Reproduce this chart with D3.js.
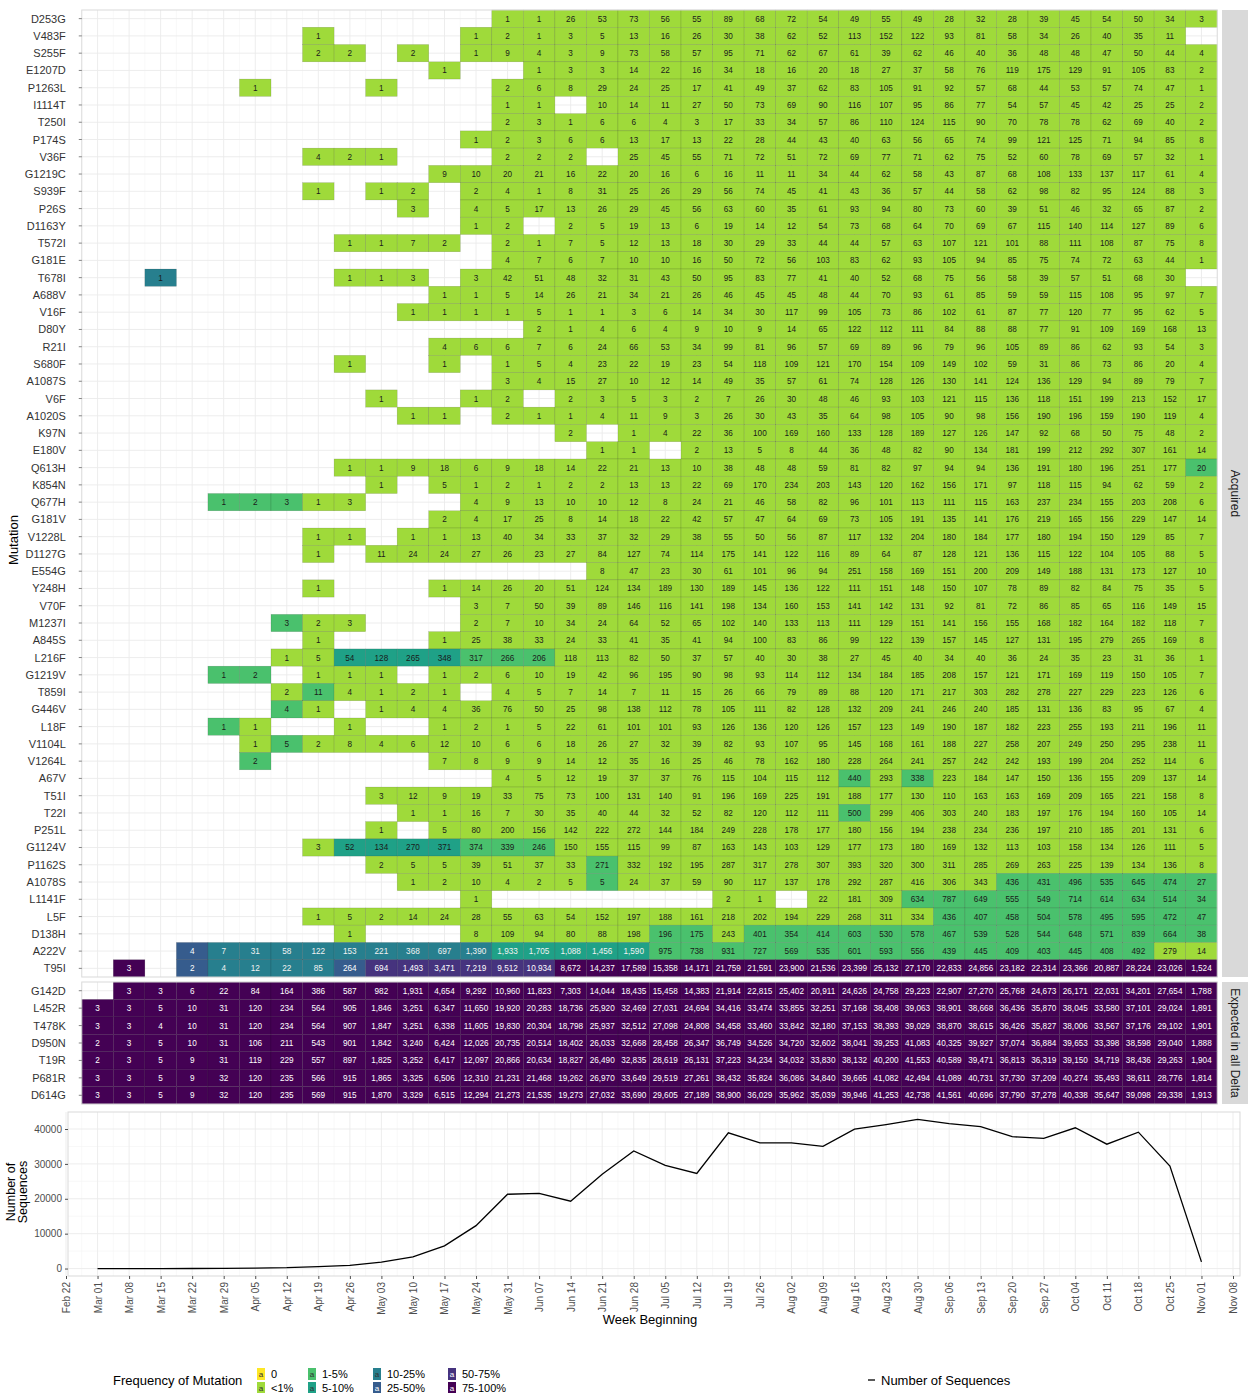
<!DOCTYPE html>
<html><head><meta charset="utf-8">
<script src="https://cdn.jsdelivr.net/npm/d3@7"></script>
<style>body{margin:0;background:#fff;font-family:"Liberation Sans",Arial,Helvetica,sans-serif}</style>
</head><body><svg id="c" width="1249" height="1393"></svg>
<script>
const _ = null;
// ---------- categories ----------
const weeks = ["Mar 01","Mar 08","Mar 15","Mar 22","Mar 29","Apr 05","Apr 12","Apr 19","Apr 26","May 03","May 10","May 17","May 24","May 31","Jun 07","Jun 14","Jun 21","Jun 28","Jul 05","Jul 12","Jul 19","Jul 26","Aug 02","Aug 09","Aug 16","Aug 23","Aug 30","Sep 06","Sep 13","Sep 20","Sep 27","Oct 04","Oct 11","Oct 18","Oct 25","Nov 01"];
const xTickLabels = ["Feb 22"].concat(weeks, ["Nov 08"]);
const acquiredMutations = ["D253G","V483F","S255F","E1207D","P1263L","I1114T","T250I","P174S","V36F","G1219C","S939F","P26S","D1163Y","T572I","G181E","T678I","A688V","V16F","D80Y","R21I","S680F","A1087S","V6F","A1020S","K97N","E180V","Q613H","K854N","Q677H","G181V","V1228L","D1127G","E554G","Y248H","V70F","M1237I","A845S","L216F","G1219V","T859I","G446V","L18F","V1104L","V1264L","A67V","T51I","T22I","P251L","G1124V","P1162S","A1078S","L1141F","L5F","D138H","A222V","T95I"];
const expectedMutations = ["G142D","L452R","T478K","D950N","T19R","P681R","D614G"];
const freqClasses = ["0","<1%","1-5%","5-10%","10-25%","25-50%","50-75%","75-100%"];
const freqColors = ["#FDE725","#9FDA3A","#4AC16D","#1FA187","#277F8E","#365C8D","#46337E","#440154"];
const yTicks = [0,10000,20000,30000,40000];

// ---------- counts per mutation (one value per week, _ = no sequences) ----------
const acquiredCounts = [
/*D253G*/ [_,_,_,_,_,_,_,_,_,_,_,_,_, 1,1,26,53,73,56,55,89,68,72,54,49, 55,49,28,32,28,39,45,54,50,34,3],
/*V483F*/ [_,_,_,_,_,_,_,1,_,_,_,_,1, 2,1,3,5,13,16,26,30,38,62,52,113, 152,122,93,81,58,34,26,40,35,11,_],
/*S255F*/ [_,_,_,_,_,_,_,2,2,_,2,_,1, 9,4,3,9,73,58,57,95,71,62,67,61, 39,62,46,40,36,48,48,47,50,44,4],
/*E1207D*/[_,_,_,_,_,_,_,_,_,_,_,1,_, _,1,3,3,14,22,16,34,18,16,20,18, 27,37,58,76,119,175,129,91,105,83,2],
/*P1263L*/[_,_,_,_,_,1,_,_,_,1,_,_,_, 2,6,8,29,24,25,17,41,49,37,62,83, 105,91,92,57,68,44,53,57,74,47,1],
/*I1114T*/[_,_,_,_,_,_,_,_,_,_,_,_,_, 1,1,_,10,14,11,27,50,73,69,90,116, 107,95,86,77,54,57,45,42,25,25,2],
/*T250I*/ [_,_,_,_,_,_,_,_,_,_,_,_,_, 2,3,1,6,6,4,3,17,33,34,57,86, 110,124,115,90,70,78,78,62,69,40,2],
/*P174S*/ [_,_,_,_,_,_,_,_,_,_,_,_,1, 2,3,6,6,13,17,13,22,28,44,43,40, 63,56,65,74,99,121,125,71,94,85,8],
/*V36F*/  [_,_,_,_,_,_,_,4,2,1,_,_,_, 2,2,2,_,25,45,55,71,72,51,72,69, 77,71,62,75,52,60,78,69,57,32,1],
/*G1219C*/[_,_,_,_,_,_,_,_,_,_,_,9,10, 20,21,16,22,20,16,6,16,11,11,34,44, 62,58,43,87,68,108,133,137,117,61,4],
/*S939F*/ [_,_,_,_,_,_,_,1,_,1,2,_,2, 4,1,8,31,25,26,29,56,74,45,41,43, 36,57,44,58,62,98,82,95,124,88,3],
/*P26S*/  [_,_,_,_,_,_,_,_,_,_,3,_,4, 5,17,13,26,29,45,56,63,60,35,61,93, 94,80,73,60,39,51,46,32,65,87,2],
/*D1163Y*/[_,_,_,_,_,_,_,_,_,_,_,_,1, 2,_,2,5,19,13,6,19,14,12,54,73, 68,64,70,69,67,115,140,114,127,89,6],
/*T572I*/ [_,_,_,_,_,_,_,_,1,1,7,2,_, 2,1,7,5,12,13,18,30,29,33,44,44, 57,63,107,121,101,88,111,108,87,75,8],
/*G181E*/ [_,_,_,_,_,_,_,_,_,_,_,_,_, 4,7,6,7,10,10,16,50,72,56,103,83, 62,93,105,94,85,75,74,72,63,44,1],
/*T678I*/ [_,_,1,_,_,_,_,_,1,1,3,_,3, 42,51,48,32,31,43,50,95,83,77,41,40, 52,68,75,56,58,39,57,51,68,30,_],
/*A688V*/ [_,_,_,_,_,_,_,_,_,_,_,1,1, 5,14,26,21,34,21,26,46,45,45,48,44, 70,93,61,85,59,59,115,108,95,97,7],
/*V16F*/  [_,_,_,_,_,_,_,_,_,_,1,1,1, 1,5,1,1,3,6,14,34,30,117,99,105, 73,86,102,61,87,77,120,77,95,62,5],
/*D80Y*/  [_,_,_,_,_,_,_,_,_,_,_,_,_, _,2,1,4,6,4,9,10,9,14,65,122, 112,111,84,88,88,77,91,109,169,168,13],
/*R21I*/  [_,_,_,_,_,_,_,_,_,_,_,4,6, 6,7,6,24,66,53,34,99,81,96,57,69, 89,96,79,96,105,89,86,62,93,54,3],
/*S680F*/ [_,_,_,_,_,_,_,_,1,_,_,1,_, 1,5,4,23,22,19,23,54,118,109,121,170, 154,109,149,102,59,31,86,73,86,20,4],
/*A1087S*/[_,_,_,_,_,_,_,_,_,_,_,_,_, 3,4,15,27,10,12,14,49,35,57,61,74, 128,126,130,141,124,136,129,94,89,79,7],
/*V6F*/   [_,_,_,_,_,_,_,_,_,1,_,_,1, 2,_,2,3,5,3,2,7,26,30,48,46, 93,103,121,115,136,118,151,199,213,152,17],
/*A1020S*/[_,_,_,_,_,_,_,_,_,_,1,1,_, 2,1,1,4,11,9,3,26,30,43,35,64, 98,105,90,98,156,190,196,159,190,119,4],
/*K97N*/  [_,_,_,_,_,_,_,_,_,_,_,_,_, _,_,2,_,1,4,22,36,100,169,160,133, 128,189,127,126,147,92,68,50,75,48,2],
/*E180V*/ [_,_,_,_,_,_,_,_,_,_,_,_,_, _,_,_,1,1,_,2,13,5,8,44,36, 48,82,90,134,181,199,212,292,307,161,14],
/*Q613H*/ [_,_,_,_,_,_,_,_,1,1,9,18,6, 9,18,14,22,21,13,10,38,48,48,59,81, 82,97,94,94,136,191,180,196,251,177,20],
/*K854N*/ [_,_,_,_,_,_,_,_,_,1,_,5,1, 2,1,2,2,13,13,22,69,170,234,203,143, 120,162,156,171,97,118,115,94,62,59,2],
/*Q677H*/ [_,_,_,_,1,2,3,1,3,_,_,_,4, 9,13,10,10,12,8,24,21,46,58,82,96, 101,113,111,115,163,237,234,155,203,208,6],
/*G181V*/ [_,_,_,_,_,_,_,_,_,_,_,2,4, 17,25,8,14,18,22,42,57,47,64,69,73, 105,191,135,141,176,219,165,156,229,147,14],
/*V1228L*/[_,_,_,_,_,_,_,1,1,_,1,1,13, 40,34,33,37,32,29,38,55,50,56,87,117, 132,204,180,184,177,180,194,150,129,85,7],
/*D1127G*/[_,_,_,_,_,_,_,1,_,11,24,24,27, 26,23,27,84,127,74,114,175,141,122,116,89, 64,87,128,121,136,115,122,104,105,88,5],
/*E554G*/ [_,_,_,_,_,_,_,_,_,_,_,_,_, _,_,_,8,47,23,30,61,101,96,94,251, 158,169,151,200,209,149,188,131,173,127,10],
/*Y248H*/ [_,_,_,_,_,_,_,1,_,_,_,1,14, 26,20,51,124,134,189,130,189,145,136,122,111, 151,148,150,107,78,89,82,84,75,35,5],
/*V70F*/  [_,_,_,_,_,_,_,_,_,_,_,_,3, 7,50,39,89,146,116,141,198,134,160,153,141, 142,131,92,81,72,86,85,65,116,149,15],
/*M1237I*/[_,_,_,_,_,_,3,2,3,_,_,_,2, 7,10,34,24,64,52,65,102,140,133,113,111, 129,151,141,156,155,168,182,164,182,118,7],
/*A845S*/ [_,_,_,_,_,_,_,1,_,_,_,1,25, 38,33,24,33,41,35,41,94,100,83,86,99, 122,139,157,145,127,131,195,279,265,169,8],
/*L216F*/ [_,_,_,_,_,_,1,5,54,128,265,348,317, 266,206,118,113,82,50,37,57,40,30,38,27, 45,40,34,40,36,24,35,23,31,36,1],
/*G1219V*/[_,_,_,_,1,2,_,1,1,1,_,1,2, 6,10,19,42,96,195,90,98,93,114,112,134, 184,185,208,157,121,171,169,119,150,105,7],
/*T859I*/ [_,_,_,_,_,_,2,11,4,1,2,1,_, 4,5,7,14,7,11,15,26,66,79,89,88, 120,171,217,303,282,278,227,229,223,126,6],
/*G446V*/ [_,_,_,_,_,_,4,1,_,1,4,4,36, 76,50,25,98,138,112,78,105,111,82,128,132, 209,241,246,240,185,131,136,83,95,67,4],
/*L18F*/  [_,_,_,_,1,1,_,_,1,_,_,1,2, 1,5,22,61,101,101,93,126,136,120,126,157, 123,149,190,187,182,223,255,193,211,196,11],
/*V1104L*/[_,_,_,_,_,1,5,2,8,4,6,12,10, 6,6,18,26,27,32,39,82,93,107,95,145, 168,161,188,227,258,207,249,250,295,238,11],
/*V1264L*/[_,_,_,_,_,2,_,_,_,_,_,7,8, 9,9,14,12,35,16,25,46,78,162,180,228, 264,241,257,242,242,193,199,204,252,114,6],
/*A67V*/  [_,_,_,_,_,_,_,_,_,_,_,_,_, 4,5,12,19,37,37,76,115,104,115,112,440, 293,338,223,184,147,150,136,155,209,137,14],
/*T51I*/  [_,_,_,_,_,_,_,_,_,3,12,9,19, 33,75,73,100,131,140,91,196,169,225,191,188, 177,130,110,163,163,169,209,165,221,158,8],
/*T22I*/  [_,_,_,_,_,_,_,_,_,_,1,1,16, 7,30,35,40,44,32,52,82,120,112,111,500, 299,406,303,240,183,197,176,194,160,105,14],
/*P251L*/ [_,_,_,_,_,_,_,_,_,1,_,5,80, 200,156,142,222,272,144,184,249,228,178,177,180, 156,194,238,234,236,197,210,185,201,131,6],
/*G1124V*/[_,_,_,_,_,_,_,3,52,134,270,371,374, 339,246,150,155,115,99,87,163,143,103,129,177, 173,180,169,132,113,103,158,134,126,111,5],
/*P1162S*/[_,_,_,_,_,_,_,_,_,2,5,5,39, 51,37,33,271,332,192,195,287,317,278,307,393, 320,300,311,285,269,263,225,139,134,136,8],
/*A1078S*/[_,_,_,_,_,_,_,_,_,_,1,2,10, 4,2,5,5,24,37,59,90,117,137,178,292, 287,416,306,343,436,431,496,535,645,474,27],
/*L1141F*/[_,_,_,_,_,_,_,_,_,_,_,_,1, _,_,_,_,_,_,_,2,1,_,22,181, 309,634,787,649,555,549,714,614,634,514,34],
/*L5F*/   [_,_,_,_,_,_,_,1,5,2,14,24,28, 55,63,54,152,197,188,161,218,202,194,229,268, 311,334,436,407,458,504,578,495,595,472,47],
/*D138H*/ [_,_,_,_,_,_,_,_,1,_,_,_,8, 109,94,80,88,198,196,175,243,401,354,414,603, 530,578,467,539,528,544,648,571,839,664,38],
/*A222V*/ [_,_,_,4,7,31,58,122,153,221,368,697,1390, 1933,1705,1088,1456,1590,975,738,931,727,569,535,601, 593,556,439,445,409,403,445,408,492,279,14],
/*T95I*/  [_,3,_,2,4,12,22,85,264,694,1493,3471,7219, 9512,10934,8672,14237,17589,15358,14171,21759,21591,23900,21536,23399, 25132,27170,22833,24856,23182,22314,23366,20887,28224,23026,1524]
];
const expectedCounts = [
/*G142D*/ [_,3,3,6,22,84,164,386,587,982,1931,4654,9292, 10960,11823,7303,14044,18435,15458,14383,21914,22815,25402,20911,24626, 24758,29223,22907,27270,25768,24673,26171,22031,34201,27654,1788],
/*L452R*/ [3,3,5,10,31,120,234,564,905,1846,3251,6347,11650, 19920,20283,18736,25920,32469,27031,24694,34416,33474,33855,32251,37168, 38408,39063,38901,38668,36436,35870,38045,33580,37101,29024,1891],
/*T478K*/ [3,3,4,10,31,120,234,564,907,1847,3251,6338,11605, 19830,20304,18798,25937,32512,27098,24808,34458,33460,33842,32180,37153, 38393,39029,38870,38615,36426,35827,38006,33567,37176,29102,1901],
/*D950N*/ [2,3,5,10,31,106,211,543,901,1842,3240,6424,12026, 20735,20514,18402,26033,32668,28458,26347,36749,34526,34720,32602,38041, 39253,41083,40325,39927,37074,36884,39653,33398,38598,29040,1888],
/*T19R*/  [2,3,5,9,31,119,229,557,897,1825,3252,6417,12097, 20866,20634,18827,26490,32835,28619,26131,37223,34234,34032,33830,38132, 40200,41553,40589,39471,36813,36319,39150,34719,38436,29263,1904],
/*P681R*/ [3,3,5,9,32,120,235,566,915,1865,3325,6506,12310, 21231,21468,19262,26970,33649,29519,27261,38432,35824,36086,34840,39665, 41082,42494,41089,40731,37730,37209,40274,35493,38611,28776,1814],
/*D614G*/ [3,3,5,9,32,120,235,569,915,1870,3329,6515,12294, 21273,21535,19273,27032,33690,29605,27189,38900,36029,35962,35039,39946, 41253,42738,41561,40696,37790,37278,40338,35647,39098,29338,1913]
];
// Number of sequences per week (line chart)
const sequences = [3,3,5,10,32,120,235,570,915,1870,3330,6520,12300,21300,21550,19300,27050,33700,29600,27250,38900,36050,36050,35050,39950,41250,42750,41550,40700,37800,37300,40350,35650,39100,29350,1915];

// Frequency class read from the tile colours (cells not listed are "<1%"; expected panel is "75-100%")
const freqOverrides = [
 ["T678I","Mar 15","Mar 15","10-25%"],
 ["Q613H","Nov 01","Nov 01","1-5%"],
 ["Q677H","Mar 29","Apr 12","1-5%"],
 ["M1237I","Apr 12","Apr 12","1-5%"],
 ["L216F","Apr 26","May 17","5-10%"],
 ["L216F","May 24","Jun 07","1-5%"],
 ["G1219V","Mar 29","Apr 05","1-5%"],
 ["T859I","Apr 19","Apr 19","1-5%"],
 ["G446V","Apr 12","Apr 12","1-5%"],
 ["L18F","Mar 29","Mar 29","1-5%"],
 ["V1104L","Apr 12","Apr 12","1-5%"],
 ["V1264L","Apr 05","Apr 05","1-5%"],
 ["A67V","Aug 16","Aug 16","1-5%"],
 ["A67V","Aug 30","Aug 30","1-5%"],
 ["T22I","Aug 16","Aug 16","1-5%"],
 ["G1124V","Apr 26","May 17","5-10%"],
 ["G1124V","May 24","Jun 07","1-5%"],
 ["P1162S","Jun 21","Jun 21","1-5%"],
 ["A1078S","Jun 21","Jun 21","1-5%"],
 ["A1078S","Sep 20","Nov 01","1-5%"],
 ["L1141F","Aug 30","Nov 01","1-5%"],
 ["L5F","Sep 06","Nov 01","1-5%"],
 ["D138H","Jul 05","Jul 12","1-5%"],
 ["D138H","Jul 26","Nov 01","1-5%"],
 ["A222V","Mar 22","Mar 22","25-50%"],
 ["A222V","Mar 29","May 24","10-25%"],
 ["A222V","May 31","Jun 28","5-10%"],
 ["A222V","Jul 05","Oct 18","1-5%"],
 ["T95I","Mar 08","Mar 08","75-100%"],
 ["T95I","Mar 22","Mar 22","25-50%"],
 ["T95I","Mar 29","Apr 19","10-25%"],
 ["T95I","Apr 26","Apr 26","25-50%"],
 ["T95I","May 03","Jun 07","50-75%"],
 ["T95I","Jun 14","Nov 01","75-100%"]
];

// ---------- drawing ----------
const svg = d3.select("#c");
const parseW = s => d3.utcParse("%b %d %Y")(s + " 2021");
const DAY = 864e5;
const x = d3.scaleUtc().domain([parseW("Feb 22"), parseW("Nov 08")]).range([66, 1233]);
const wDates = weeks.map(parseW);
const tickDates = xTickLabels.map(parseW);
const colorOf = d3.scaleOrdinal().domain(freqClasses).range(freqColors);
const fmt = d3.format(",");

const heatL = x(new Date(+parseW("Feb 22") + 3.5 * DAY)), heatR = x(new Date(+parseW("Nov 08") - 3.5 * DAY));
const stripL = 1222, stripR = 1248;
const yAcq = d3.scaleBand().domain(acquiredMutations).range([10, 977]);
const yExp = d3.scaleBand().domain(expectedMutations).range([982, 1104]);

function classGrid(muts, def) {
  const g = {};
  muts.forEach(m => g[m] = weeks.map(() => def));
  return g;
}
const acqClass = classGrid(acquiredMutations, "<1%");
freqOverrides.forEach(([m, a, b, c]) => {
  const i0 = weeks.indexOf(a), i1 = weeks.indexOf(b);
  for (let i = i0; i <= i1; i++) acqClass[m][i] = c;
});
const expClass = classGrid(expectedMutations, "75-100%");

function textFill(d) {
  const k = freqClasses.indexOf(d.c);
  if (k >= 5) return "#ffffff";
  if (k === 4 && d.v > 1) return "#f2f2f2";
  if (k >= 3 && d.v >= 1000) return "#f2f2f2";
  return "#1a1a1a";
}

function panel(yScale, muts, counts, cls, top, bottom, stripText) {
  const g = svg.append("g");
  g.append("rect").attr("x", heatL).attr("y", top).attr("width", heatR - heatL).attr("height", bottom - top).attr("fill", "#fff");
  wDates.concat([parseW("Feb 22")]).forEach(d => {
    const xm = x(new Date(+d + 3.5 * DAY));
    if (xm > heatL + 1 && xm < heatR - 1)
      g.append("line").attr("x1", xm).attr("x2", xm).attr("y1", top).attr("y2", bottom).attr("stroke", "#f4f4f4").attr("stroke-width", 0.6);
  });
  wDates.forEach(d => g.append("line").attr("x1", x(d)).attr("x2", x(d)).attr("y1", top).attr("y2", bottom).attr("stroke", "#ebebeb").attr("stroke-width", 0.9));
  muts.forEach(m => {
    const yc = yScale(m) + yScale.bandwidth() / 2;
    g.append("line").attr("x1", heatL).attr("x2", heatR).attr("y1", yc).attr("y2", yc).attr("stroke", "#ebebeb").attr("stroke-width", 0.9);
  });
  const cells = [];
  muts.forEach((m, r) => counts[r].forEach((v, i) => { if (v !== null) cells.push({ m, i, v, c: cls[m][i] }); }));
  g.selectAll("rect.cell").data(cells).enter().append("rect").attr("class", "cell")
    .attr("x", d => x(new Date(+wDates[d.i] - 3.5 * DAY)))
    .attr("width", d => x(new Date(+wDates[d.i] + 3.5 * DAY)) - x(new Date(+wDates[d.i] - 3.5 * DAY)))
    .attr("y", d => yScale(d.m)).attr("height", yScale.bandwidth())
    .attr("fill", d => colorOf(d.c)).attr("stroke", "rgba(0,0,0,0.22)").attr("stroke-width", 0.5);
  g.selectAll("text.cell").data(cells).enter().append("text")
    .attr("x", d => x(wDates[d.i])).attr("y", d => yScale(d.m) + yScale.bandwidth() / 2 + 3)
    .attr("text-anchor", "middle").attr("font-size", 8.2)
    .attr("fill", textFill)
    .text(d => fmt(d.v));
  g.append("rect").attr("x", heatL).attr("y", top).attr("width", heatR - heatL).attr("height", bottom - top).attr("fill", "none").attr("stroke", "#d9d9d9").attr("stroke-width", 1);
  muts.forEach(m => g.append("text").attr("x", heatL - 16).attr("y", yScale(m) + yScale.bandwidth() / 2 + 4)
    .attr("text-anchor", "end").attr("font-size", 11).attr("fill", "#333").text(m));
  muts.forEach(m => g.append("line").attr("x1", heatL - 3).attr("x2", heatL).attr("y1", yScale(m) + yScale.bandwidth() / 2).attr("y2", yScale(m) + yScale.bandwidth() / 2).attr("stroke", "#333").attr("stroke-width", 0.6));
  g.append("rect").attr("x", stripL).attr("y", top).attr("width", stripR - stripL).attr("height", bottom - top).attr("fill", "#d9d9d9");
  const sy = (top + bottom) / 2;
  g.append("text").attr("transform", `translate(${(stripL + stripR) / 2 - 4},${sy}) rotate(90)`).attr("text-anchor", "middle")
    .attr("font-size", 12).attr("fill", "#1a1a1a").text(stripText);
}
panel(yAcq, acquiredMutations, acquiredCounts, acqClass, 10, 977, "Acquired");
panel(yExp, expectedMutations, expectedCounts, expClass, 982, 1104, "Expected in all Delta");

svg.append("text").attr("transform", "translate(18,540) rotate(-90)").attr("text-anchor", "middle").attr("font-size", 13).attr("fill", "#000").text("Mutation");

// ---------- line chart ----------
const lineL = 68, lineR = 1240, lineT = 1112, lineB = 1276;
const y = d3.scaleLinear().domain([-2137, 44875]).range([lineB, lineT]);
const lg = svg.append("g");
lg.append("rect").attr("x", lineL).attr("y", lineT).attr("width", lineR - lineL).attr("height", lineB - lineT).attr("fill", "#fff");
d3.range(5000, 45000, 10000).forEach(v => lg.append("line").attr("x1", lineL).attr("x2", lineR).attr("y1", y(v)).attr("y2", y(v)).attr("stroke", "#f4f4f4").attr("stroke-width", 0.6));
tickDates.forEach(d => {
  const xm = x(new Date(+d + 3.5 * DAY));
  if (xm < lineR) lg.append("line").attr("x1", xm).attr("x2", xm).attr("y1", lineT).attr("y2", lineB).attr("stroke", "#f4f4f4").attr("stroke-width", 0.6);
});
yTicks.forEach(v => lg.append("line").attr("x1", lineL).attr("x2", lineR).attr("y1", y(v)).attr("y2", y(v)).attr("stroke", "#ebebeb").attr("stroke-width", 0.9));
tickDates.forEach(d => lg.append("line").attr("x1", x(d)).attr("x2", x(d)).attr("y1", lineT).attr("y2", lineB).attr("stroke", "#ebebeb").attr("stroke-width", 0.9));
lg.append("path").datum(sequences).attr("fill", "none").attr("stroke", "#000").attr("stroke-width", 1.3)
  .attr("d", d3.line().x((v, i) => x(wDates[i])).y(v => y(v)));
lg.append("rect").attr("x", lineL).attr("y", lineT).attr("width", lineR - lineL).attr("height", lineB - lineT).attr("fill", "none").attr("stroke", "#d9d9d9");
const yAxis = lg.append("g").attr("transform", `translate(${lineL},0)`).call(d3.axisLeft(y).tickValues(yTicks).tickSize(3).tickFormat(d3.format("d")));
yAxis.select(".domain").remove();
yAxis.selectAll("text").attr("font-size", 10).attr("fill", "#4d4d4d").attr("font-family", "Liberation Sans, Arial, sans-serif");
yAxis.selectAll("line").attr("stroke", "#4d4d4d");
const xAxis = lg.append("g").attr("transform", `translate(0,${lineB})`).call(d3.axisBottom(x).tickValues(tickDates).tickSize(3).tickFormat((d, i) => xTickLabels[i]));
xAxis.select(".domain").remove();
xAxis.selectAll("line").attr("stroke", "#4d4d4d");
xAxis.selectAll("text").attr("font-size", 10).attr("fill", "#4d4d4d").attr("font-family", "Liberation Sans, Arial, sans-serif")
  .attr("transform", "rotate(-90)").attr("text-anchor", "end").attr("x", -6).attr("y", 0).attr("dy", "0.35em");
svg.append("text").attr("x", 650).attr("y", 1324).attr("text-anchor", "middle").attr("font-size", 13).text("Week Beginning");
const yl = svg.append("text").attr("transform", "translate(17,1192) rotate(-90)").attr("text-anchor", "middle").attr("font-size", 12.5);
yl.append("tspan").attr("x", 0).attr("dy", "-0.2em").text("Number of");
yl.append("tspan").attr("x", 0).attr("dy", "1.0em").text("Sequences");

// ---------- legend ----------
const leg = svg.append("g");
leg.append("text").attr("x", 113).attr("y", 1385).attr("font-size", 13).text("Frequency of Mutation");
const keyX = [257, 308, 373, 448];
freqClasses.forEach((c, i) => {
  const col = Math.floor(i / 2), row = i % 2;
  const kx = keyX[col], ky = 1368 + row * 14;
  leg.append("rect").attr("x", kx).attr("y", ky).attr("width", 8).attr("height", 12).attr("fill", colorOf(c));
  leg.append("text").attr("x", kx + 4).attr("y", ky + 9).attr("text-anchor", "middle").attr("font-size", 8)
    .attr("fill", i >= 5 ? "#fff" : "#333").text("a");
  leg.append("text").attr("x", kx + 14).attr("y", ky + 10).attr("font-size", 11).text(c);
});
leg.append("line").attr("x1", 868).attr("x2", 875).attr("y1", 1380).attr("y2", 1380).attr("stroke", "#000").attr("stroke-width", 1.3);
leg.append("text").attr("x", 881).attr("y", 1385).attr("font-size", 13).text("Number of Sequences");
</script></body></html>
